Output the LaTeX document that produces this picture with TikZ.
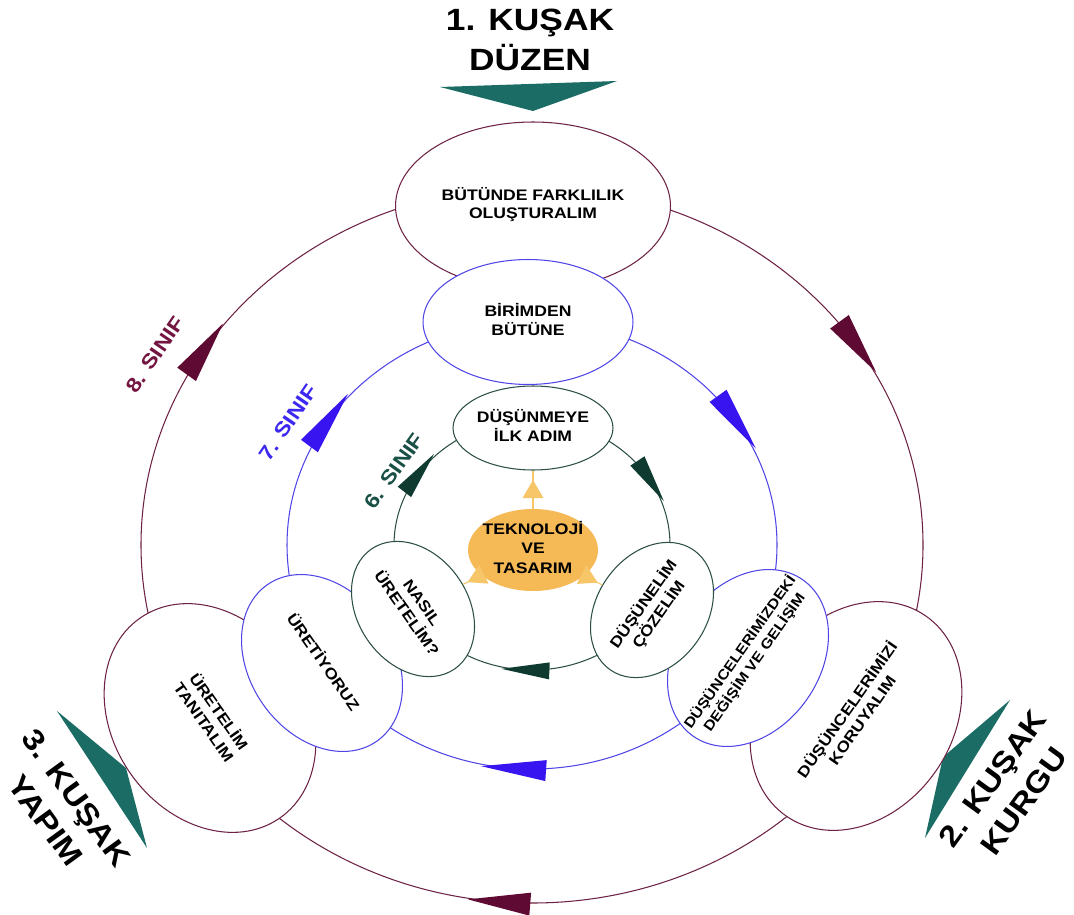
\documentclass[tikz,border=0pt]{standalone}
\usepackage{fontspec}
\setmainfont{Liberation Sans}[FakeStretch=1.15]
\usetikzlibrary{shapes.geometric,decorations.markings}

\definecolor{kusakteal}{RGB}{28,108,102}
\definecolor{sekizline}{RGB}{110,35,70}
\definecolor{sekizfill}{RGB}{95,10,50}
\definecolor{sekiztext}{RGB}{115,20,65}
\definecolor{yediline}{RGB}{80,70,230}
\definecolor{yedifill}{RGB}{55,20,240}
\definecolor{yeditext}{RGB}{60,40,240}
\definecolor{altiline}{RGB}{45,80,70}
\definecolor{altifill}{RGB}{15,58,48}
\definecolor{altitext}{RGB}{25,80,70}
\definecolor{techorange}{RGB}{245,185,85}
\definecolor{techtri}{RGB}{246,198,105}

% centred text that does not widen the oval
\newcommand{\lbl}[1]{\makebox[0pt]{\begin{tabular}{@{}c@{}}#1\end{tabular}}}
% long flat arrow head sitting on a ring
\newcommand{\ringtri}[3]{\fill[#1] (-#2/2,-#3/2) -- (#2/2,0) -- (-#2/2,#3/2) -- cycle;}

\begin{document}
\begin{tikzpicture}[
    x=0.02cm, y=-0.02cm,
    oval/.style={ellipse, draw=#1, fill=white, line width=0.6pt, inner sep=0pt, font=\fontsize{8.7}{10.4}\selectfont\bfseries},
    kusak/.style={font=\fontsize{17.5}{23}\selectfont\bfseries, align=center},
    sinif/.style={font=\fontsize{11.5}{13}\selectfont\bfseries, text=#1},
    ring/.style={draw=#1, line width=0.6pt},
    ringmarks/.style n args={6}{postaction={decorate, decoration={markings,
        mark=at position #4 with {\ringtri{#1}{#2}{#3}},
        mark=at position #5 with {\ringtri{#1}{#2}{#3}},
        mark=at position #6 with {\ringtri{#1}{#2}{#3}}}}},
    techarrow/.style={draw=techtri, line width=0.6pt, postaction={decorate, decoration={markings,
        mark=at position 0.75 with {\fill[techtri] (-0.36cm,-0.21cm) -- (0,0) -- (-0.36cm,0.21cm) -- cycle;}}}},
]

\path[use as bounding box, fill=white] (0,0) rectangle (1074,915);
\coordinate (ctr) at (532,545);

% ---- kusak titles and wedges
\node[kusak] (k1) at (530,40) {1. KUŞAK\\DÜZEN};
\node[kusak, rotate=54, font=\fontsize{16.8}{22}\selectfont\bfseries] (k2) at (1008,790) {2. KUŞAK\\KURGU};
\node[kusak, rotate=-54, font=\fontsize{16.8}{22}\selectfont\bfseries] (k3) at (61,809) {3. KUŞAK\\YAPIM};
\fill[kusakteal] (440,87) -- (617,81) -- (533,111) -- cycle;
\fill[kusakteal] (1010,700) -- (943,757) -- (925,838) -- cycle;
\fill[kusakteal] (57,711) -- (126,768) -- (147,848) -- cycle;

% ---- 8. sinif ring
\draw[ring=sekizline, ringmarks={sekizfill}{1.25cm}{0.46cm}{0.264}{0.589}{0.910}]
    (ctr) ellipse [x radius=391, y radius=358];
\node[oval=sekizline, minimum width=5.5cm, minimum height=3.36cm] (n8top) at (533,206) {\lbl{BÜTÜNDE FARKLILIK\\OLUŞTURALIM}};
\node[oval=sekizline, minimum width=4.88cm, minimum height=3.88cm, rotate=-55] (n8bl) at (210,718) {\lbl{ÜRETELİM\\TANITALIM}};
\node[oval=sekizline, minimum width=4.88cm, minimum height=3.88cm, rotate=55] (n8br) at (856,716) {\lbl{DÜŞÜNCELERİMİZİ\\KORUYALIM}};
\node[sinif=sekiztext, rotate=55.6] (s8) at (155,355) {8. SINIF};

% ---- 7. sinif ring
\draw[ring=yediline, ringmarks={yedifill}{1.3cm}{0.42cm}{0.2625}{0.591}{0.911}]
    (ctr) ellipse [x radius=245, y radius=224];
\node[oval=yediline, minimum width=4.2cm, minimum height=2.5cm] (n7top) at (528,322) {\lbl{BİRİMDEN\\BÜTÜNE}};
\node[oval=yediline, minimum width=3.82cm, minimum height=2.88cm, rotate=-55] (n7bl) at (322,663) {\lbl{ÜRETİYORUZ}};
\node[oval=yediline, minimum width=3.82cm, minimum height=2.88cm, rotate=55, font=\fontsize{8}{10}\selectfont\bfseries] (n7br) at (748,658) {\lbl{DÜŞÜNCELERİMİZDEKİ\\DEĞİŞİM VE GELİŞİM}};
\node[sinif=yeditext, rotate=55.6] (s7) at (288,423) {7. SINIF};

% ---- 6. sinif ring
\draw[ring=altiline, ringmarks={altifill}{0.96cm}{0.34cm}{0.258}{0.594}{0.918}]
    (ctr) ellipse [x radius=138, y radius=125];
\node[oval=altiline, minimum width=3.2cm, minimum height=1.68cm] (n6top) at (533,428) {\lbl{DÜŞÜNMEYE\\İLK ADIM}};
\node[oval=altiline, minimum width=2.92cm, minimum height=2.2cm, rotate=-55] (n6bl) at (413,609) {\lbl{NASIL\\ÜRETELİM?}};
\node[oval=altiline, minimum width=2.92cm, minimum height=2.2cm, rotate=55] (n6br) at (652,610) {\lbl{DÜŞÜNELİM\\ÇÖZELİM}};
\node[sinif=altitext, rotate=54.5] (s6) at (394,471) {6. SINIF};

% ---- centre
\node[ellipse, fill=techorange, minimum width=2.6cm, minimum height=1.52cm, inner sep=0pt, font=\fontsize{8.7}{11}\selectfont\bfseries] (tech) at (533,550) {\lbl{TEKNOLOJİ\\VE\\TASARIM}};
\draw[techarrow] (tech) -- (n6top);
\draw[techarrow] (tech) -- (n6bl);
\draw[techarrow] (tech) -- (n6br);

\end{tikzpicture}
\end{document}
